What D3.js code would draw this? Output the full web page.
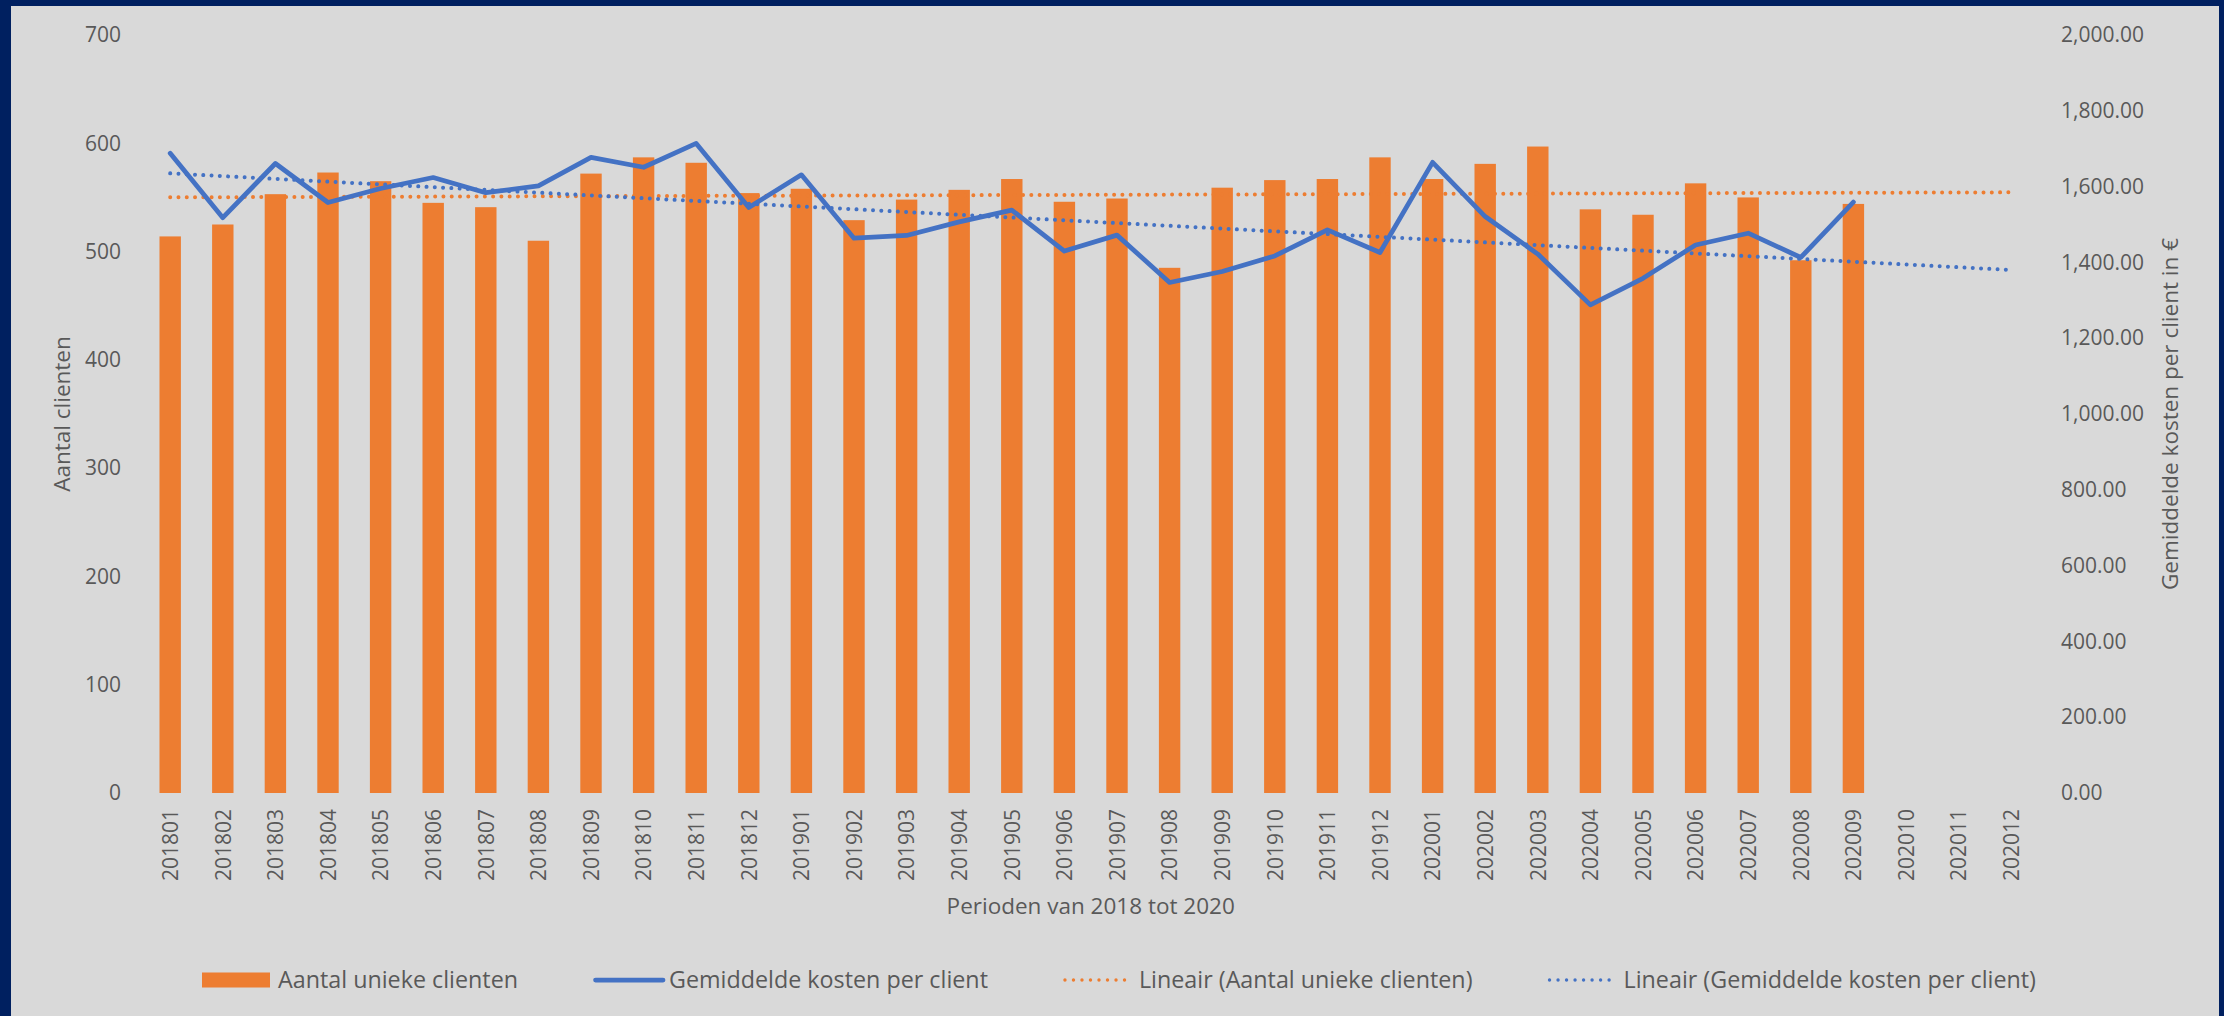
<!DOCTYPE html>
<html>
<head>
<meta charset="utf-8">
<script src="https://cdn.jsdelivr.net/npm/d3@7"></script>
<style>
  html, body { margin: 0; padding: 0; background: #002060; }
  svg { display: block; }
  text { font-family: "Segoe UI", "Open Sans", sans-serif; fill: #595959; }
</style>
</head>
<body>
<div id="chart"></div>
<script>
// --- DATA ---
const periods = [
  "201801","201802","201803","201804","201805","201806","201807","201808","201809","201810","201811","201812",
  "201901","201902","201903","201904","201905","201906","201907","201908","201909","201910","201911","201912",
  "202001","202002","202003","202004","202005","202006","202007","202008","202009","202010","202011","202012"
];
const clients = [514, 525, 553, 573, 565, 545, 541, 510, 572, 587, 582, 554,
                 558, 529, 548, 557, 567, 546, 549, 485, 559, 566, 567, 587,
                 567, 581, 597, 539, 534, 563, 550, 492, 544];
const costs = [1688, 1518, 1661, 1558, 1595, 1624, 1584, 1602, 1677, 1651, 1714, 1545,
               1631, 1464, 1471, 1507, 1538, 1430, 1472, 1347, 1376, 1417, 1486, 1426,
               1664, 1521, 1422, 1288, 1358, 1446, 1477, 1413, 1559];
// trend lines (start at 201801, end at 202012)
const trendClients = [550.1, 554.7];
const trendCosts = [1635, 1380];
const leftTicks = [0, 100, 200, 300, 400, 500, 600, 700];
const rightTicks = [0, 200, 400, 600, 800, 1000, 1200, 1400, 1600, 1800, 2000];
const seriesNames = ["Aantal unieke clienten", "Gemiddelde kosten per client",
                     "Lineair (Aantal unieke clienten)", "Lineair (Gemiddelde kosten per client)"];

// --- SETUP ---
const width = 2224, height = 1016;
const orange = "#ED7D31", blue = "#4472C4";
const plot = { left: 143.9, right: 2037.5, top: 35, bottom: 793 };

const svg = d3.select("#chart").append("svg")
  .attr("width", width).attr("height", height);

// frame: navy border top / left / right
svg.append("rect").attr("x", 0).attr("y", 0).attr("width", width).attr("height", height).attr("fill", "#002060");
svg.append("rect").attr("x", 11).attr("y", 6).attr("width", width - 16).attr("height", height - 6).attr("fill", "#D9D9D9");

// --- SCALES ---
const x = d3.scalePoint().domain(periods).range([plot.left, plot.right]).padding(0.5);
const barW = x.step() * 0.407;
const yLeft = d3.scaleLinear().domain([0, 700]).range([plot.bottom, plot.top]);
const yRight = d3.scaleLinear().domain([0, 2000]).range([plot.bottom, plot.top]);

// --- AXES ---
const gl = svg.append("g").attr("transform", "translate(121,0)")
  .call(d3.axisLeft(yLeft).tickValues(leftTicks).tickSize(0).tickPadding(0));
const gr = svg.append("g").attr("transform", "translate(2061,0)")
  .call(d3.axisRight(yRight).tickValues(rightTicks).tickSize(0).tickPadding(0).tickFormat(d3.format(",.2f")));
const gb = svg.append("g").attr("transform", `translate(0,${plot.bottom})`)
  .call(d3.axisBottom(x).tickSize(0).tickPadding(0));
[gl, gr, gb].forEach(g => {
  g.select(".domain").remove();
  g.selectAll("text").style("font-size", "21px").attr("fill", "#595959")
    .style("font-family", "'Segoe UI', 'Open Sans', sans-serif");
});
gb.selectAll("text")
  .attr("transform", "rotate(-90)")
  .attr("x", -16).attr("y", 0).attr("dy", "0.35em")
  .style("text-anchor", "end");

// axis titles
svg.append("text").attr("transform", "translate(62,414) rotate(-90)")
  .attr("dy", "0.35em").style("text-anchor", "middle").style("font-size", "22.5px")
  .text("Aantal clienten");
svg.append("text").attr("transform", "translate(2170,414) rotate(-90)")
  .attr("dy", "0.35em").style("text-anchor", "middle").style("font-size", "22.5px")
  .text("Gemiddelde kosten per client in €");
svg.append("text").attr("x", (plot.left + plot.right) / 2).attr("y", 906)
  .attr("dy", "0.35em").style("text-anchor", "middle").style("font-size", "22.5px")
  .text("Perioden van 2018 tot 2020");

// --- BARS ---
svg.append("g").selectAll("rect")
  .data(clients)
  .enter().append("rect")
  .attr("x", (d, i) => x(periods[i]) - barW / 2)
  .attr("y", d => yLeft(d))
  .attr("width", barW)
  .attr("height", d => yLeft(0) - yLeft(d))
  .attr("fill", orange);

// --- TREND LINES ---
const first = periods[0], last = periods[periods.length - 1];
svg.append("line")
  .attr("x1", x(first)).attr("x2", x(last))
  .attr("y1", yLeft(trendClients[0])).attr("y2", yLeft(trendClients[1]))
  .attr("stroke", orange).attr("stroke-width", 4)
  .attr("stroke-linecap", "round").attr("stroke-dasharray", "0.01 8.27");

// --- COST LINE ---
const line = d3.line()
  .x((d, i) => x(periods[i]))
  .y(d => yRight(d));
svg.append("path")
  .datum(costs)
  .attr("d", line)
  .attr("fill", "none")
  .attr("stroke", blue).attr("stroke-width", 4.75)
  .attr("stroke-linejoin", "round").attr("stroke-linecap", "round");

svg.append("line")
  .attr("x1", x(first)).attr("x2", x(last))
  .attr("y1", yRight(trendCosts[0])).attr("y2", yRight(trendCosts[1]))
  .attr("stroke", blue).attr("stroke-width", 4)
  .attr("stroke-linecap", "round").attr("stroke-dasharray", "0.01 8.27");

// --- LEGEND ---
const legend = svg.append("g").attr("transform", "translate(0,980)");
let lx = 202;
seriesNames.forEach((name, i) => {
  const item = legend.append("g").attr("transform", `translate(${lx},0)`);
  if (i === 0) {
    item.append("rect").attr("x", 0).attr("y", -7.5).attr("width", 68).attr("height", 15).attr("fill", orange);
  } else if (i === 1) {
    item.append("line").attr("x1", 2.5).attr("x2", 70).attr("y1", 0).attr("y2", 0)
      .attr("stroke", blue).attr("stroke-width", 4.75).attr("stroke-linecap", "round");
  } else {
    item.append("line").attr("x1", 2).attr("x2", 70).attr("y1", 0).attr("y2", 0)
      .attr("stroke", i === 2 ? orange : blue).attr("stroke-width", 3.4)
      .attr("stroke-linecap", "round").attr("stroke-dasharray", "0.01 8.5");
  }
  const t = item.append("text").attr("x", 76).attr("y", 0).attr("dy", "0.35em")
    .style("font-size", "23.3px").text(name);
  lx += 76 + t.node().getComputedTextLength() + 75;
});
</script>
</body>
</html>
